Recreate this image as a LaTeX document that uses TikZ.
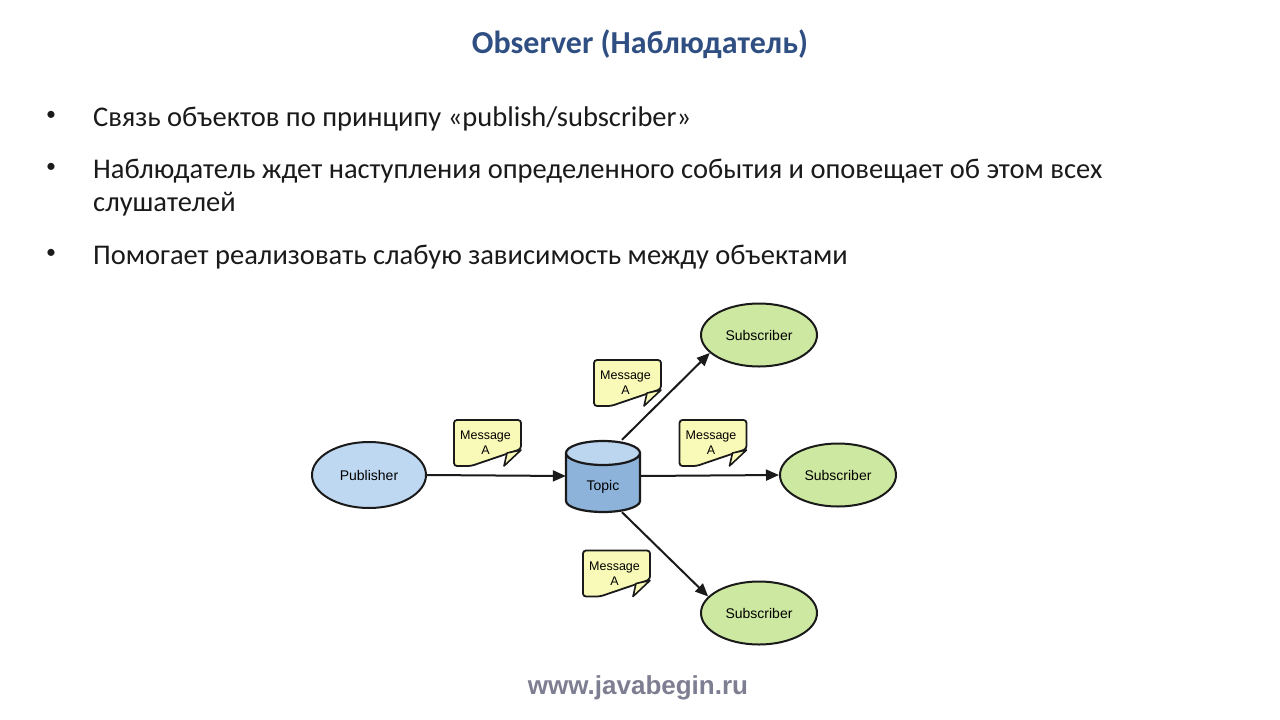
\documentclass[tikz,border=0pt]{standalone}
\usepackage{fontspec}
\setmainfont{Carlito}
\newfontfamily\arialfont{Liberation Sans}
\usetikzlibrary{arrows.meta,shapes.geometric}
\definecolor{titleblue}{HTML}{2F4F82}
\definecolor{bodytext}{HTML}{1A1A1A}
\definecolor{pubfill}{HTML}{BED8F2}
\definecolor{subfill}{HTML}{CDE8A0}
\definecolor{topbody}{HTML}{8DB3DB}
\definecolor{toptop}{HTML}{BCD6F0}
\definecolor{notefill}{HTML}{FAFAB8}
\definecolor{footgray}{HTML}{7E7E92}
\definecolor{edge}{HTML}{1A1A1A}
\tikzset{
  bodyline/.style={anchor=base west, inner sep=0pt, text=bodytext, font=\fontsize{28.5}{34}\selectfont},
  bulletdot/.style={anchor=center, inner sep=0pt, text=bodytext, font=\fontsize{20}{24}\selectfont},
  pubnode/.style={ellipse, draw=edge, line width=2pt, fill=pubfill, minimum width=114pt, minimum height=66pt, inner sep=0pt, font=\arialfont\fontsize{14}{16}\selectfont},
  subnode/.style={ellipse, draw=edge, line width=2pt, fill=subfill, minimum width=116pt, minimum height=63pt, inner sep=0pt, font=\arialfont\fontsize{14}{16}\selectfont},
  topicbox/.style={rectangle, minimum width=74pt, minimum height=72pt, inner sep=0pt},
  topiclabel/.style={inner sep=0pt, font=\arialfont\fontsize{14}{16}\selectfont},
  msgbox/.style={rectangle, minimum width=67pt, minimum height=46pt, inner sep=0pt, align=center, font=\arialfont\fontsize{12.5}{15}\selectfont},
  noteline/.style={draw=edge, line width=1.8pt, fill=notefill, rounded corners=3pt},
  foldline/.style={draw=edge, line width=1.6pt, fill=notefill, line join=round},
  flow/.style={draw=edge, line width=2pt, -{Triangle[length=13pt,width=11pt]}},
  cylline/.style={draw=edge, line width=2.2pt},
}
\begin{document}
\begin{tikzpicture}[x=1pt,y=-1pt]
\useasboundingbox[fill=white] (0,0) rectangle (1280,720);

% title
\node[anchor=base, inner sep=0pt, text=titleblue, font=\bfseries\fontsize{32}{36}\selectfont] (title) at (640,53) {Observer (Наблюдатель)};

% bullets
\node[bulletdot] (b1) at (51,116) {•};
\node[bodyline] (t1) at (93,126) {Связь объектов по принципу «publish/subscriber»};
\node[bulletdot] (b2) at (51,168) {•};
\node[bodyline] (t2) at (93,178) {Наблюдатель ждет наступления определенного события и оповещает об этом всех};
\node[bodyline] (t2b) at (93,211) {слушателей};
\node[bulletdot] (b3) at (51,254) {•};
\node[bodyline] (t3) at (93,264) {Помогает реализовать слабую зависимость между объектами};

% topic cylinder
\fill[topbody] (566,453) -- (566,501) arc[start angle=180, end angle=0, x radius=37, y radius=11] -- (640,453) -- cycle;
\draw[cylline] (566,453) -- (566,501) arc[start angle=180, end angle=0, x radius=37, y radius=11] -- (640,453);
\draw[cylline, fill=toptop] (603,453) ellipse[x radius=37, y radius=12];
\node[topicbox] (topic) at (603,476) {};
\node[topiclabel] (topiclbl) at (603,487) {Topic};

% ellipses
\node[pubnode] (pub) at (369,475) {Publisher};
\node[subnode] (s1) at (759,335) {Subscriber};
\node[subnode] (s2) at (838,475) {Subscriber};
\node[subnode] (s3) at (759,613) {Subscriber};

% message notes
\foreach \nm/\cx/\cy in {m1/487.5/443, m2/627.5/383, m3/713/443, m4/616.5/573.5}{
  \path[noteline] (\cx-33.5+17,\cy+23) -- (\cx-33.5,\cy+23) -- (\cx-33.5,\cy-23) -- (\cx+33.5,\cy-23) -- (\cx+33.5,\cy+23-17) -- cycle;
  \path[foldline] (\cx+33.5-17,\cy+23) -- (\cx+33.5-14,\cy+23-13) -- (\cx+33.5,\cy+23-16) -- cycle;
  \node[msgbox] (\nm) at (\cx-2,\cy) {Message\\A};
}

% connectors
\draw[flow] (pub.east) -- (topic.west);
\draw[flow] ([xshift=19pt]topic.north) -- (s1.200);
\draw[flow] (topic.east) -- (s2.west);
\draw[flow] ([xshift=19pt]topic.south) -- (s3.162);

% footer
\node[inner sep=0pt, text=footgray, font=\arialfont\bfseries\fontsize{26}{29}\selectfont] (foot) at (638,688) {www.javabegin.ru};
\end{tikzpicture}
\end{document}
